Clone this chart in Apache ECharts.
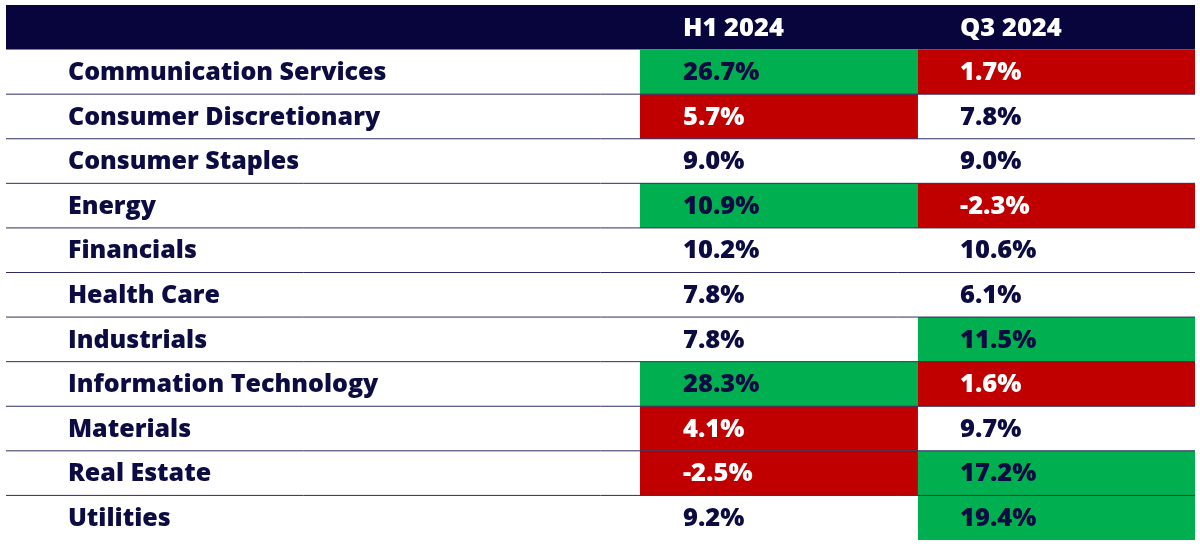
<!DOCTYPE html>
<html>
<head>
<meta charset="utf-8">
<script src="https://cdn.jsdelivr.net/npm/echarts@6/dist/echarts.min.js"></script>
<style>
html,body{margin:0;padding:0;background:#fff;}
#chart{width:1200px;height:544px;}
</style>
</head>
<body>
<div id="chart"></div>
<script>
const categories = ['Communication Services','Consumer Discretionary','Consumer Staples','Energy','Financials','Health Care','Industrials','Information Technology','Materials','Real Estate','Utilities'];
const columns = ['H1 2024','Q3 2024'];
const h1Values = [26.7, 5.7, 9.0, 10.9, 10.2, 7.8, 7.8, 28.3, 4.1, -2.5, 9.2];
const q3Values = [1.7, 7.8, 9.0, -2.3, 10.6, 6.1, 11.5, 1.6, 9.7, 17.2, 19.4];
const h1Flags = ['up','down','','up','','','','up','down','down',''];
const q3Flags = ['down','','','down','','','up','down','','up','up'];

const NAVY = '#07053b';
const TEXT = '#0c0b42';
const GREEN = '#00b050';
const RED = '#c00000';
const LINE = '#2e2c5e';
const FONT = 'Open Sans';
const LABEL_FONT = '800 25px "' + FONT + '"';
const VALUE_FONT = '800 25.5px "' + FONT + '"';

// column edges on a 0..100 x scale
const colEdges = [0, 53.32, 76.70, 100];
const textX = [5.21, 56.94, 80.24];

const rows = ['header'].concat(categories);

const data = [];
data.push({value:[0, 0], kind:'header'});
categories.forEach((c, i) => {
  data.push({value:[0, i + 1], kind:'label', text:c});
  data.push({value:[1, i + 1], kind:'cell', text:h1Values[i].toFixed(1) + '%', flag:h1Flags[i]});
  data.push({value:[2, i + 1], kind:'cell', text:q3Values[i].toFixed(1) + '%', flag:q3Flags[i]});
});

function renderItem(params, api) {
  const col = api.value(0);
  const row = api.value(1);
  const item = data[params.dataIndex];
  const rowH = api.size([0, 1])[1];
  const cy = api.coord([0, row])[1];
  const top = cy - rowH / 2;
  const children = [];
  if (item.kind === 'header') {
    const xl = api.coord([0, row])[0];
    const xr = api.coord([100, row])[0];
    children.push({type:'rect', shape:{x:xl, y:top, width:xr - xl, height:rowH}, style:{fill:NAVY}});
    columns.forEach((t, k) => {
      children.push({type:'text', style:{text:t, x:api.coord([textX[k + 1], row])[0], y:cy + 1, fill:'#ffffff',
        font:VALUE_FONT, textVerticalAlign:'middle', textAlign:'left'}});
    });
    return {type:'group', children};
  }
  const x0 = api.coord([colEdges[col], row])[0];
  const x1 = api.coord([colEdges[col + 1], row])[0];
  let fill = null, tcolor = TEXT;
  if (item.flag === 'up') { fill = GREEN; }
  if (item.flag === 'down') { fill = RED; tcolor = '#ffffff'; }
  if (fill) children.push({type:'rect', shape:{x:x0, y:top, width:x1 - x0, height:rowH}, style:{fill}});
  if (col === 0 && row < rows.length - 1) {
    const xl = api.coord([0, row])[0];
    const xr = api.coord([100, row])[0];
    children.push({type:'line', z2:10, shape:{x1:xl, y1:top + rowH, x2:xr, y2:top + rowH}, style:{stroke:LINE, lineWidth:1}});
  }
  children.push({type:'text', z2:20, style:{text:item.text, x:api.coord([textX[col], row])[0], y:cy + 1, fill:tcolor,
    font:(col === 0 ? LABEL_FONT : VALUE_FONT), textVerticalAlign:'middle', textAlign:'left'}});
  return {type:'group', children};
}

const chart = echarts.init(document.getElementById('chart'), null, {renderer:'canvas'});
chart.setOption({
  animation:false,
  grid:{left:6, right:5, top:5, bottom:4},
  xAxis:{type:'value', min:0, max:100, show:false},
  yAxis:{type:'category', data:rows, inverse:true, show:false},
  series:[{type:'custom', renderItem, data, clip:false}]
});
</script>
</body>
</html>
